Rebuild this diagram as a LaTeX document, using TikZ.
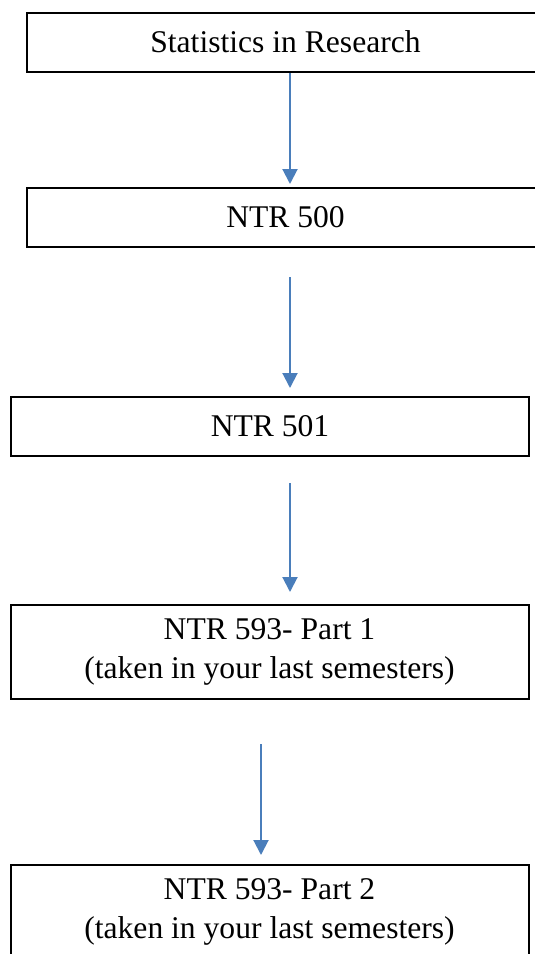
\documentclass[tikz,border=0pt]{standalone}
\usepackage{fontspec}
\setmainfont{Liberation Serif}
\usetikzlibrary{arrows.meta}
\definecolor{flowblue}{RGB}{74,126,187}
\begin{document}
\begin{tikzpicture}[x=0.5pt, y=-0.5pt,
                course/.style={draw, line width=1pt, inner sep=0pt, align=center,
                    minimum width=259pt, font=\fontsize{15.8}{19.5}\selectfont},
                onerow/.style={course, minimum height=29.5pt},
                tworow/.style={course, minimum height=47pt},
                flow/.style={draw=flowblue, line width=1pt, -{Triangle[width=7.5pt, length=7.5pt]}, flowblue}]
                \useasboundingbox (0,0) rectangle (535,954);
                \node[onerow] (stats) at (285.5,42) {Statistics in Research};
                \node[onerow] (ntr500) at (285.5,217.5) {NTR 500};
                \node[onerow] (ntr501) at (270,426.5) {NTR 501};
                \node[tworow] (partone) at (269.5,652) {NTR 593- Part 1\\(taken in your last semesters)};
                \node[tworow] (parttwo) at (269.5,912) {NTR 593- Part 2\\(taken in your last semesters)};
                % arrows sit between the boxes, not touching them
                \coordinate (a1) at (290,73);  \coordinate (b1) at (290,184);
                \coordinate (a2) at (290,277); \coordinate (b2) at (290,388);
                \coordinate (a3) at (290,483); \coordinate (b3) at (290,592);
                \coordinate (a4) at (261,744); \coordinate (b4) at (261,855);
                \draw[flow] (a1) -- (b1);
                \draw[flow] (a2) -- (b2);
                \draw[flow] (a3) -- (b3);
                \draw[flow] (a4) -- (b4);
            \end{tikzpicture}
\end{document}
